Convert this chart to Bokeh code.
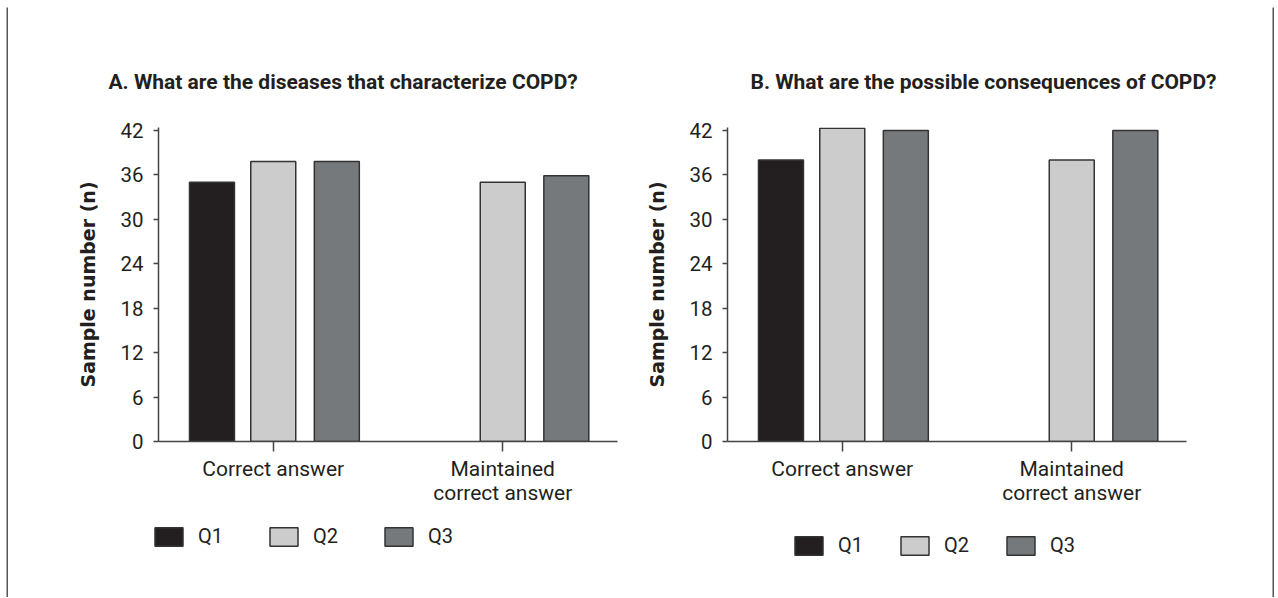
from bokeh.plotting import figure
from bokeh.models import ColumnDataSource, FactorRange, Range1d, FixedTicker, Legend, LegendItem, Spacer
from bokeh.transform import dodge
from bokeh.layouts import row, column
from bokeh.embed import file_html
from bokeh.resources import INLINE

NAN = float("nan")

# ---- data ----
categories = ["Correct answer", "Maintained\ncorrect answer"]
series = ["Q1", "Q2", "Q3"]
a_q1 = [35.0, NAN]
a_q2 = [37.8, 35.0]
a_q3 = [37.8, 35.9]
b_q1 = [38.0, NAN]
b_q2 = [42.3, 38.0]
b_q3 = [42.0, 42.0]
y_ticks = [0, 6, 12, 18, 24, 30, 36, 42]
title_a = "A. What are the diseases that characterize COPD?"
title_b = "B. What are the possible consequences of COPD?"
y_label = "Sample number (n)"
colors = ["#231f20", "#cccccc", "#76797c"]

TXT = "#231f20"
AX = "#444444"
FONT = "Roboto"
OFFSETS = [-0.267, 0.0, 0.277]
BAR_W = 0.196
HP = 504      # chart figure height
HL = 86       # legend strip height
BORDER = "#555555"
OUTLINE = "#333333"


def strip(w, h):
    s = figure(width=w, height=h, output_backend="svg", toolbar_location=None, tools="",
               min_border=0, x_axis_type=None, y_axis_type=None)
    s.outline_line_color = None
    s.background_fill_color = BORDER
    s.border_fill_color = BORDER
    s.grid.visible = False
    return s


def make_panel(title, q1, q2, q3, width, mbl, mbr, title_offset):
    src = ColumnDataSource(dict(cat=categories, Q1=q1, Q2=q2, Q3=q3))
    p = figure(x_range=FactorRange(factors=categories, range_padding=0, factor_padding=0),
               y_range=Range1d(0, 42.4), width=width, height=HP,
               min_border_left=mbl, min_border_right=mbr, min_border_top=120,
               min_border_bottom=HP - 120 - 314, output_backend="svg", toolbar_location=None,
               tools="")
    p.outline_line_color = None
    p.xgrid.grid_line_color = None
    p.ygrid.grid_line_color = None
    p.background_fill_color = "white"
    p.border_fill_color = "white"

    for name, col, off in zip(series, colors, OFFSETS):
        p.vbar(x=dodge("cat", off, range=p.x_range), top=name, width=BAR_W, source=src,
               fill_color=col, line_color=OUTLINE, line_width=1.5)

    p.title.text = title
    p.title.align = "left"
    p.title.offset = title_offset
    p.title.standoff = 67
    p.title.text_font = FONT
    p.title.text_font_style = "bold"
    p.title.text_font_size = "21px"
    p.title.text_color = TXT

    ya = p.yaxis[0]
    ya.ticker = FixedTicker(ticks=y_ticks)
    ya.axis_label = y_label
    ya.axis_label_text_font = "DejaVu Sans"
    ya.axis_label_text_font_style = "bold"
    ya.axis_label_text_font_size = "19px"
    ya.axis_label_text_color = TXT
    ya.axis_label_standoff = 18
    ya.major_label_text_font = FONT
    ya.major_label_text_font_size = "20.5px"
    ya.major_label_text_color = TXT
    ya.major_label_standoff = 10
    ya.major_tick_out = 5
    ya.major_tick_in = 0
    ya.minor_tick_out = 0
    ya.minor_tick_in = 0
    ya.axis_line_color = AX
    ya.axis_line_width = 1.5
    ya.major_tick_line_color = AX
    ya.major_tick_line_width = 1.5

    xa = p.xaxis[0]
    xa.major_label_text_font = FONT
    xa.major_label_text_font_size = "21px"
    xa.major_label_text_color = TXT
    xa.major_label_text_line_height = 1.0
    xa.major_label_standoff = 5
    xa.major_tick_out = 10
    xa.major_tick_in = 0
    xa.axis_line_color = AX
    xa.axis_line_width = 1.5
    xa.major_tick_line_color = AX
    xa.major_tick_line_width = 1.5
    return p


WA, WB = 624, 640
pa = make_panel(title_a, a_q1, a_q2, a_q3, WA, 150, 15, -50)
pb = make_panel(title_b, b_q1, b_q2, b_q3, WB, 95, 86, 23)

# legend strip under both charts (swatches come from hidden proxy renderers)
lp = figure(width=WA + WB, height=HL, x_range=Range1d(0, 1), y_range=Range1d(0, 1),
            output_backend="svg", toolbar_location=None, tools="", min_border=0,
            x_axis_type=None, y_axis_type=None)
lp.outline_line_color = None
lp.grid.visible = False
lp.background_fill_color = "white"
lp.border_fill_color = "white"
proxies = []
for name, col in zip(series, colors):
    proxies.append(lp.vbar(x=[0.5], top=[0.5], width=0.1, fill_color=col,
                           line_color=OUTLINE, line_width=1.5, visible=False))


def add_legend(leg_x, leg_y, label_w):
    items = [LegendItem(label=n, renderers=[r]) for n, r in zip(series, proxies)]
    leg = Legend(items=items, orientation="horizontal", location=(leg_x, leg_y),
                 glyph_width=35, glyph_height=23, label_standoff=12, label_width=label_w,
                 label_height=23, spacing=18, padding=0, margin=0,
                 border_line_color=None, background_fill_alpha=0,
                 label_text_font=FONT, label_text_font_size="20px",
                 label_text_color=TXT)
    lp.add_layout(leg, "center")


add_legend(143, 49, 50)
add_legend(783, 40, 41)

top = strip(WA + WB + 4, 2)
left = strip(2, HP + HL)
right = strip(2, HP + HL)
inner = column(top, row(left, column(row(pa, pb), lp), right))
lay = column(Spacer(height=5), row(Spacer(width=6), inner))

open("out.html", "w").write(file_html(lay, INLINE))
